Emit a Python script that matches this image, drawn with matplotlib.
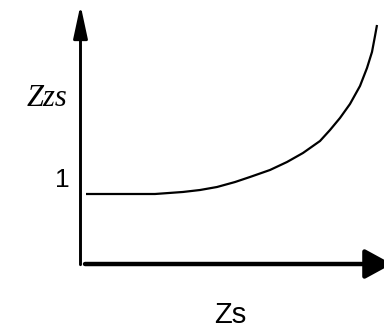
import matplotlib.pyplot as plt

# Zzs versus Zs: flat at 1, then rising steeply
zs = [0.055, 0.745, 1.025, 1.195, 1.365, 1.545, 1.695, 1.895, 2.065, 2.225,
      2.395, 2.495, 2.595, 2.695, 2.795, 2.865, 2.915, 2.945, 2.965]
zzs = [1.0, 1.0, 1.029, 1.057, 1.10, 1.171, 1.243, 1.343, 1.457, 1.586,
       1.757, 1.914, 2.086, 2.286, 2.543, 2.80, 3.029, 3.257, 3.414]

x_label = 'Zs'
y_label = 'Zzs'
y_mark = 1
x_axis_end = 3.115
y_axis_end = 3.70

fig = plt.figure(figsize=(3.84, 3.28), dpi=100)
ax = fig.add_axes([0, 0, 1, 1])
ax.set_xlim(-0.805, 3.035)
ax.set_ylim(-0.914, 3.771)
ax.axis('off')

# curve
ax.plot(zs, zzs, color='black', lw=1.6, solid_capstyle='butt')

# axes as arrows
ax.annotate('', xy=(0, y_axis_end), xytext=(0, -0.01), annotation_clip=False,
            arrowprops=dict(arrowstyle='-|>,head_length=20,head_width=4.3',
                            mutation_scale=1, lw=2.1, color='black',
                            shrinkA=0, shrinkB=0))
ax.annotate('', xy=(x_axis_end, 0), xytext=(0.045, 0), annotation_clip=False,
            arrowprops=dict(arrowstyle='-|>,head_length=16.5,head_width=9',
                            mutation_scale=1, lw=3.2, color='black',
                            shrinkA=0, shrinkB=0))

# labels
ax.text(-0.335, 2.37, y_label, family='Liberation Serif', style='italic',
        fontsize=22, ha='center', va='center')
ax.text(-0.185, 1.2, str(y_mark), family='Liberation Sans',
        fontsize=19, ha='center', va='center')
ax.text(1.495, -0.73, x_label, family='Liberation Sans',
        fontsize=21, ha='center', va='center')

fig.savefig('out.png', dpi=100)
